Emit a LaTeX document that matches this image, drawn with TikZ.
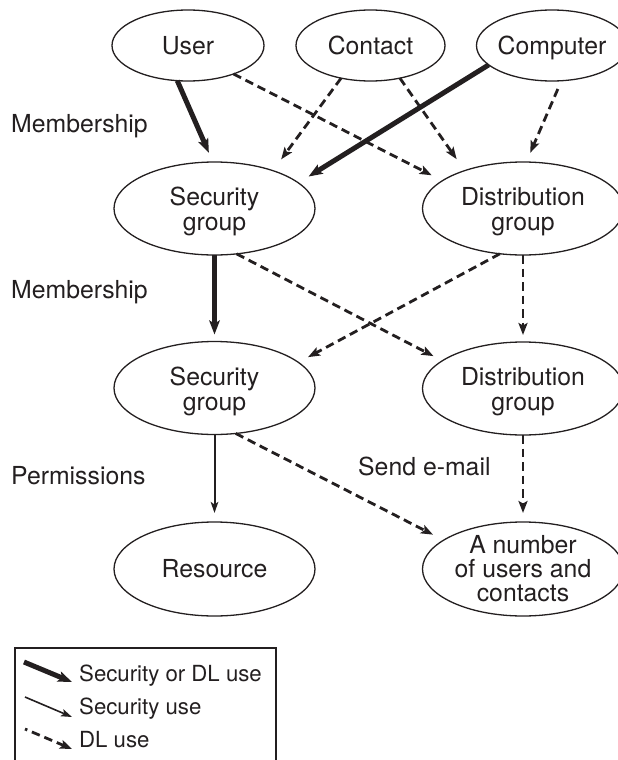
\documentclass[tikz,border=0pt]{standalone}
\usepackage{fontspec}
\setmainfont{TeX Gyre Heros}
\usetikzlibrary{arrows.meta,shapes.geometric}
\definecolor{ink}{RGB}{35,31,32}
\newcommand\bigf{\fontsize{24.8pt}{25pt}\selectfont}
\newcommand\numf{\fontsize{24.8pt}{24pt}\selectfont}
\newcommand\legf{\fontsize{22.2pt}{24pt}\selectfont}
\newcommand\lift{\rule{0pt}{25pt}}
\begin{document}
\begin{tikzpicture}[x=1pt,y=-1pt,
  every node/.style={text=ink},
  ell/.style={draw=ink, line width=1.3pt, ellipse, inner sep=-10pt, outer sep=0pt, align=center, font=\bigf},
  topell/.style={ell, minimum height=71pt},
  bigell/.style={ell, minimum width=201pt, minimum height=93pt},
  lbl/.style={anchor=base west, inner sep=0pt, font=\bigf},
  legtxt/.style={anchor=base west, inner sep=0pt, font=\legf},
  thickarr/.style={line width=5pt, draw=ink, -{Stealth[length=14pt,width=10.5pt,inset=3pt]}},
  thinarr/.style={line width=2pt, draw=ink, -{Stealth[length=11pt,width=7.5pt,inset=2.5pt]}},
  dasharr/.style={line width=2.8pt, draw=ink, dash pattern=on 8.5pt off 5pt, -{Stealth[length=12pt,width=9pt,inset=2.5pt]}}
]
\useasboundingbox (0,0) rectangle (618,760);
\clip (0,0) rectangle (618,760);

% nodes
\node[topell, minimum width=152pt] (user) at (188,45.5) {User};
\node[topell, minimum width=149pt] (contact) at (370.5,45.5) {Contact};
\node[topell, minimum width=151pt, text depth=0pt] (computer) at (552,45.5) {Computer};

\node[bigell] (sec2) at (214.5,208.5) {\lift Security\\group};
\node[bigell] (dist2) at (523,208.5) {\lift Distribution\\group};
\node[bigell] (sec3) at (214.5,388) {\lift Security\\group};
\node[bigell] (dist3) at (523,388.5) {\lift Distribution\\group};
\node[bigell, minimum height=94pt] (res) at (214.5,569) {Resource};
\node[bigell, minimum height=94pt, font=\numf] (num) at (523,569) {A number\\of users and\\contacts};

% side labels
\node[lbl] (mem1) at (11,132) {Membership};
\node[lbl] (mem2) at (11,298) {Membership};
\node[lbl] (perm) at (11,484) {Permissions};
\node[lbl] (mail) at (358,475) {Send e-mail};

% connectors: row 1 -> row 2
\draw[thickarr, shorten >=10pt] (user.-107) -- (sec2.92);
\draw[dasharr, shorten >=12pt] (user.-32) -- (dist2.161);
\draw[dasharr, shorten >=14pt] (contact.-132) -- (sec2.33);
\draw[dasharr, shorten >=14pt] (contact.-48) -- (dist2.147);
\draw[thickarr, shorten >=12pt] (computer.-163) -- (sec2.17);
\draw[dasharr, shorten <=9pt, shorten >=10pt] (computer.-75) -- (dist2.86);

% row 2 -> row 3
\draw[thickarr, shorten >=7pt] (sec2) -- (sec3);
\draw[dasharr, shorten >=10pt] (sec2.-64) -- (dist3.161);
\draw[dasharr, shorten >=11pt] (dist2.-117) -- (sec3.17);
\draw[dasharr, shorten >=7pt] (dist2) -- (dist3);

% row 3 -> row 4
\draw[thinarr, shorten >=9pt] (sec3) -- (res);
\draw[dasharr, shorten >=12pt] (sec3.-65) -- (num.160);
\draw[dasharr, shorten >=9pt] (dist3) -- (num);

% legend
\node[draw=ink, line width=1.3pt, anchor=north west, inner sep=0pt, outer sep=0pt,
      minimum width=261pt, minimum height=130pt] (legend) at (15,648) {};
\coordinate (l1a) at (24,662);  \coordinate (l1b) at (72,682);
\coordinate (l2a) at (25,697);  \coordinate (l2b) at (72,717);
\coordinate (l3a) at (25,729);  \coordinate (l3b) at (72,749);
\draw[thickarr] (l1a) -- (l1b);
\draw[thinarr, line width=1.6pt] (l2a) -- (l2b);
\draw[dasharr, dash phase=6pt] (l3a) -- (l3b);
\node[legtxt] (t1) at (79,681) {Security or DL use};
\node[legtxt] (t2) at (79,714) {Security use};
\node[legtxt] (t3) at (79,747) {DL use};
\end{tikzpicture}
\end{document}
